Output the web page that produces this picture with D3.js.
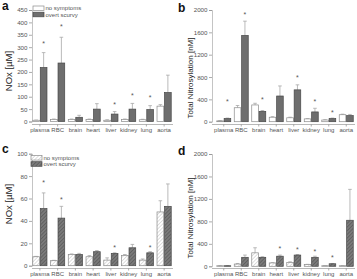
<!DOCTYPE html>
<html><head><meta charset="utf-8">
<script src="https://cdn.jsdelivr.net/npm/d3@7"></script>
<style>body{margin:0;background:#fff}svg{display:block;font-family:"Liberation Sans",Arial,sans-serif}</style>
</head><body>
<script>
const categories = ["plasma","RBC","brain","heart","liver","kidney","lung","aorta"];
// Panel a: NOx [µM]
const aNoSym = [5, 8, 8, 8, 5, 8, 7, 62];
const aNoSymErr = [6, 10, 10, 10, 7, 10, 9, 68];
const aScurvy = [218, 236, 17, 50, 30, 50, 48, 117];
const aScurvyErr = [278, 340, 25, 72, 40, 73, 64, 187];
const aStars = [320, 388, null, null, 72, 110, 100, null];
const aTicks = [0, 50, 100, 150, 200, 250, 300, 350, 400, 450];
// Panel b: Total Nitrosylation [nM]
const bNoSym = [15, 250, 300, 80, 70, 50, 30, 125];
const bNoSymErr = [20, 290, 330, 90, 80, 55, 35, 135];
const bScurvy = [55, 1545, 185, 460, 570, 175, 55, 110];
const bScurvyErr = [65, 1800, 200, 640, 660, 240, 65, 130];
const bStars = [390, 1940, 420, null, 820, 375, 190, null];
const bTicks = [0, 400, 800, 1200, 1600, 2000];
// Panel c: NOx [µM]
const cNoSym = [8, 4.5, 10, 8, 5, 9, 5, 48];
const cNoSymErr = [8.3, 4.8, 10.5, 9, 7, 10, 6, 58];
const cScurvy = [51, 42.5, 10, 12.5, 11, 16, 11.5, 53];
const cScurvyErr = [65, 53, 11, 13.5, 11.5, 19, 12.5, 73];
const cStars = [75, 60, null, null, 17, null, 17, null];
const cTicks = [0, 20, 40, 60, 80, 100];
// Panel d: Total Nitrosylation [nM]
const dNoSym = [10, 40, 240, 60, 70, 30, 10, 10];
const dNoSymErr = [12, 50, 330, 65, 80, 35, 12, 12];
const dScurvy = [10, 160, 160, 180, 200, 160, 45, 820];
const dScurvyErr = [12, 200, 170, 200, 210, 180, 50, 1370];
const dStars = [null, null, null, 338, 320, 290, 170, null];
const dTicks = [0, 400, 800, 1200, 1600, 2000];

const seriesNames = ["no symptoms", "overt scurvy"];

const W = 357, H = 279;
const svg = d3.select("body").append("svg").attr("width", W).attr("height", H);
const defs = svg.append("defs");
function hatch(id, bg, line) {
  const p = defs.append("pattern").attr("id", id).attr("patternUnits", "userSpaceOnUse")
    .attr("width", 2.6).attr("height", 2.6).attr("patternTransform", "rotate(45)");
  p.append("rect").attr("width", 2.6).attr("height", 2.6).attr("fill", bg);
  p.append("line").attr("x1", 0).attr("y1", 0).attr("x2", 0).attr("y2", 2.6)
    .attr("stroke", line).attr("stroke-width", 1);
}
hatch("hw", "#ffffff", "#bdbdbd");
hatch("hg", "#7a7a7a", "#4a4a4a");

const TXT = "#555";
const FONT = "Liberation Sans, Arial, sans-serif";
function panel(cfg) {
  const g = svg.append("g");
  const x = d3.scaleBand().domain(categories).range(cfg.xr).paddingInner(0.2).paddingOuter(0.1);
  const y = d3.scaleLinear().domain(cfg.yd).range(cfg.yr);
  const bw = x.bandwidth() / 2 - 0.4;
  // y axis
  const ya = g.append("g").attr("transform", `translate(${cfg.ax},0)`)
    .call(d3.axisLeft(y).tickValues(cfg.ticks).tickFormat(d3.format("d")).tickSize(3).tickPadding(1.5));
  ya.select(".domain").attr("stroke", "#aaa").attr("stroke-width", 0.7);
  ya.selectAll(".tick line").attr("stroke", "#888").attr("stroke-width", 0.7);
  ya.selectAll("text").attr("font-size", 6.2).attr("fill", TXT).attr("font-family", FONT);
  // x axis
  const xa = g.append("g").attr("transform", `translate(0,${cfg.xay})`)
    .call(d3.axisBottom(x).tickSize(2).tickPadding(1.5).tickSizeOuter(0));
  xa.select(".domain").attr("stroke", "#999").attr("stroke-width", 0.7).attr("d", `M${cfg.ax},0H${cfg.xr[1]}`);
  xa.selectAll(".tick line").attr("stroke", "#888").attr("stroke-width", 0.7);
  xa.selectAll("text").attr("font-size", 6).attr("fill", TXT).attr("font-family", FONT);
  // bars
  const rows = categories.map((c, i) => ({c, i}));
  const fills = cfg.hatched ? ["url(#hw)", "url(#hg)"] : ["#ffffff", "#6e6e6e"];
  const strokes = ["#8a8a8a", "#474747"];
  [cfg.v0, cfg.v1].forEach((vals, s) => {
    const errs = s === 0 ? cfg.e0 : cfg.e1;
    const bx = d => x(d.c) + (s === 0 ? 0 : bw + 0.8);
    g.selectAll(null).data(rows).enter().append("line")
      .attr("x1", d => bx(d) + bw / 2).attr("x2", d => bx(d) + bw / 2)
      .attr("y1", d => y(vals[d.i])).attr("y2", d => y(errs[d.i]))
      .attr("stroke", "#a8a8a8").attr("stroke-width", 0.8);
    g.selectAll(null).data(rows).enter().append("line")
      .attr("x1", d => bx(d) + bw / 2 - 1.8).attr("x2", d => bx(d) + bw / 2 + 1.8)
      .attr("y1", d => y(errs[d.i])).attr("y2", d => y(errs[d.i]))
      .attr("stroke", "#a8a8a8").attr("stroke-width", 0.8);
    g.selectAll(null).data(rows).enter().append("rect")
      .attr("x", d => bx(d)).attr("width", bw)
      .attr("y", d => y(vals[d.i])).attr("height", d => y(0) - y(vals[d.i]))
      .attr("fill", fills[s]).attr("stroke", strokes[s]).attr("stroke-width", 0.7);
  });
  // stars
  g.selectAll(null).data(rows.filter(d => cfg.stars[d.i] != null)).enter().append("text")
    .attr("x", d => x(d.c) + bw + 0.8 + bw / 2).attr("y", d => y(cfg.stars[d.i]) + 3.6)
    .attr("text-anchor", "middle").attr("font-size", 7).attr("fill", TXT).text("*");
  // y title
  g.append("text").attr("transform", `translate(${cfg.tx},${cfg.ty}) rotate(-90)`)
    .attr("text-anchor", "middle").attr("font-size", cfg.tfs).attr("fill", "#222")
    .attr("font-family", FONT).text(cfg.title);
  // panel letter
  g.append("text").attr("x", cfg.lx).attr("y", cfg.ly).attr("font-size", 12).attr("font-weight", "bold")
    .attr("fill", "#111").text(cfg.letter);
  // legend
  if (cfg.legend) {
    const lg = g.append("g").attr("transform", `translate(${cfg.legend[0]},${cfg.legend[1]})`);
    seriesNames.forEach((n, s) => {
      lg.append("rect").attr("x", 0).attr("y", s * 6.2).attr("width", 11).attr("height", 4.6)
        .attr("fill", fills[s]).attr("stroke", strokes[s]).attr("stroke-width", 0.7);
      lg.append("text").attr("x", 12.5).attr("y", s * 6.2 + 4.4).attr("font-size", 6)
        .attr("fill", TXT).text(n);
    });
  }
}

panel({letter: "a", lx: 2, ly: 10, xr: [31, 173], yd: [0, 450], yr: [121.5, 10], ticks: aTicks, ax: 32, xay: 124.5,
  v0: aNoSym, e0: aNoSymErr, v1: aScurvy, e1: aScurvyErr, stars: aStars, hatched: false,
  title: "NOx [µM]", tx: 12, ty: 71, tfs: 9.5, legend: [33, 6]});
panel({letter: "b", lx: 178, ly: 12, xr: [215, 355], yd: [0, 2000], yr: [121.7, 10], ticks: bTicks, ax: 212, xay: 124.5,
  v0: bNoSym, e0: bNoSymErr, v1: bScurvy, e1: bScurvyErr, stars: bStars, hatched: false,
  title: "Total Nitrosylation [nM]", tx: 193, ty: 78, tfs: 8});
panel({letter: "c", lx: 2, ly: 153, xr: [31, 173], yd: [0, 100], yr: [265.7, 153.7], ticks: cTicks, ax: 32, xay: 268.5,
  v0: cNoSym, e0: cNoSymErr, v1: cScurvy, e1: cScurvyErr, stars: cStars, hatched: true,
  title: "NOx [µM]", tx: 12, ty: 204, tfs: 9.5, legend: [31, 155.5]});
panel({letter: "d", lx: 178, ly: 155, xr: [215, 355], yd: [0, 2000], yr: [266.3, 154], ticks: dTicks, ax: 212, xay: 268.5,
  v0: dNoSym, e0: dNoSymErr, v1: dScurvy, e1: dScurvyErr, stars: dStars, hatched: true,
  title: "Total Nitrosylation [nM]", tx: 193, ty: 218, tfs: 8});
</script>
</body></html>
